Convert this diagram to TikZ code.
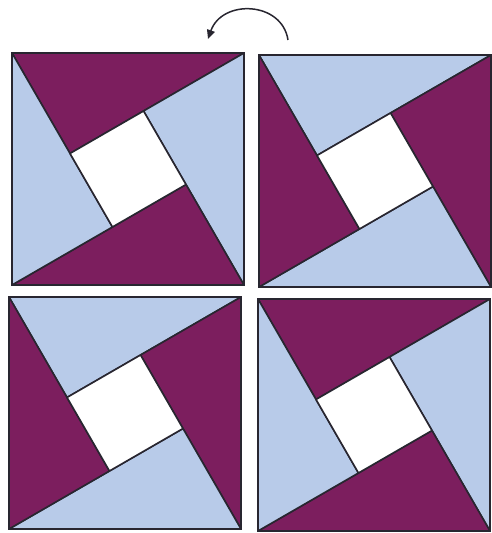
\documentclass[tikz,border=0pt]{standalone}
\usepackage{xcolor}
\usepackage{tikz}
\usetikzlibrary{arrows.meta,calc}

\definecolor{plum}{RGB}{124,30,94}
\definecolor{skyblue}{RGB}{184,203,233}
\definecolor{seam}{RGB}{40,38,48}

\begin{document}
\begin{tikzpicture}[
    x=1pt, y=1pt,
    patch/.style={draw=seam, line width=1.6pt, line join=round},
    blockEdge/.style={draw=seam, line width=2.2pt},
    turnArrow/.style={-{Triangle[length=9pt, width=8pt]}, line width=1.5pt, draw=seam}
]
\useasboundingbox (0,0) rectangle (491,533);

% Four pinwheel blocks: corner x / corner y / top+bottom colour / left+right colour
\foreach \bx/\by/\ca/\cb in {12/248/plum/skyblue, 259/246/skyblue/plum, 9/4/skyblue/plum, 258/2/plum/skyblue}{
    \coordinate (bl) at (\bx,\by);
    \coordinate (br) at (\bx+232,\by);
    \coordinate (tr) at (\bx+232,\by+232);
    \coordinate (tl) at (\bx,\by+232);
    % inner square corners
    \coordinate (pa) at ($(tl)+(-60:116)$);
    \coordinate (pb) at ($(tr)+(-150:116)$);
    \coordinate (pc) at ($(br)+(120:116)$);
    \coordinate (pd) at ($(bl)+(30:116)$);
    \draw[patch, fill=\ca] (tl) -- (tr) -- (pa) -- cycle;
    \draw[patch, fill=\cb] (tr) -- (br) -- (pb) -- cycle;
    \draw[patch, fill=\ca] (br) -- (bl) -- (pc) -- cycle;
    \draw[patch, fill=\cb] (bl) -- (tl) -- (pd) -- cycle;
    \draw[patch, fill=white] (pa) -- (pb) -- (pc) -- (pd) -- cycle;
    \draw[blockEdge] (bl) rectangle (tr);
}

% Turn arrow over the top blocks
\coordinate (arrowFrom) at (288,493);
\coordinate (arrowTo) at (208,494);
\draw[turnArrow] (arrowFrom) .. controls (282,532) and (222,534) .. (arrowTo);

\end{tikzpicture}
\end{document}
